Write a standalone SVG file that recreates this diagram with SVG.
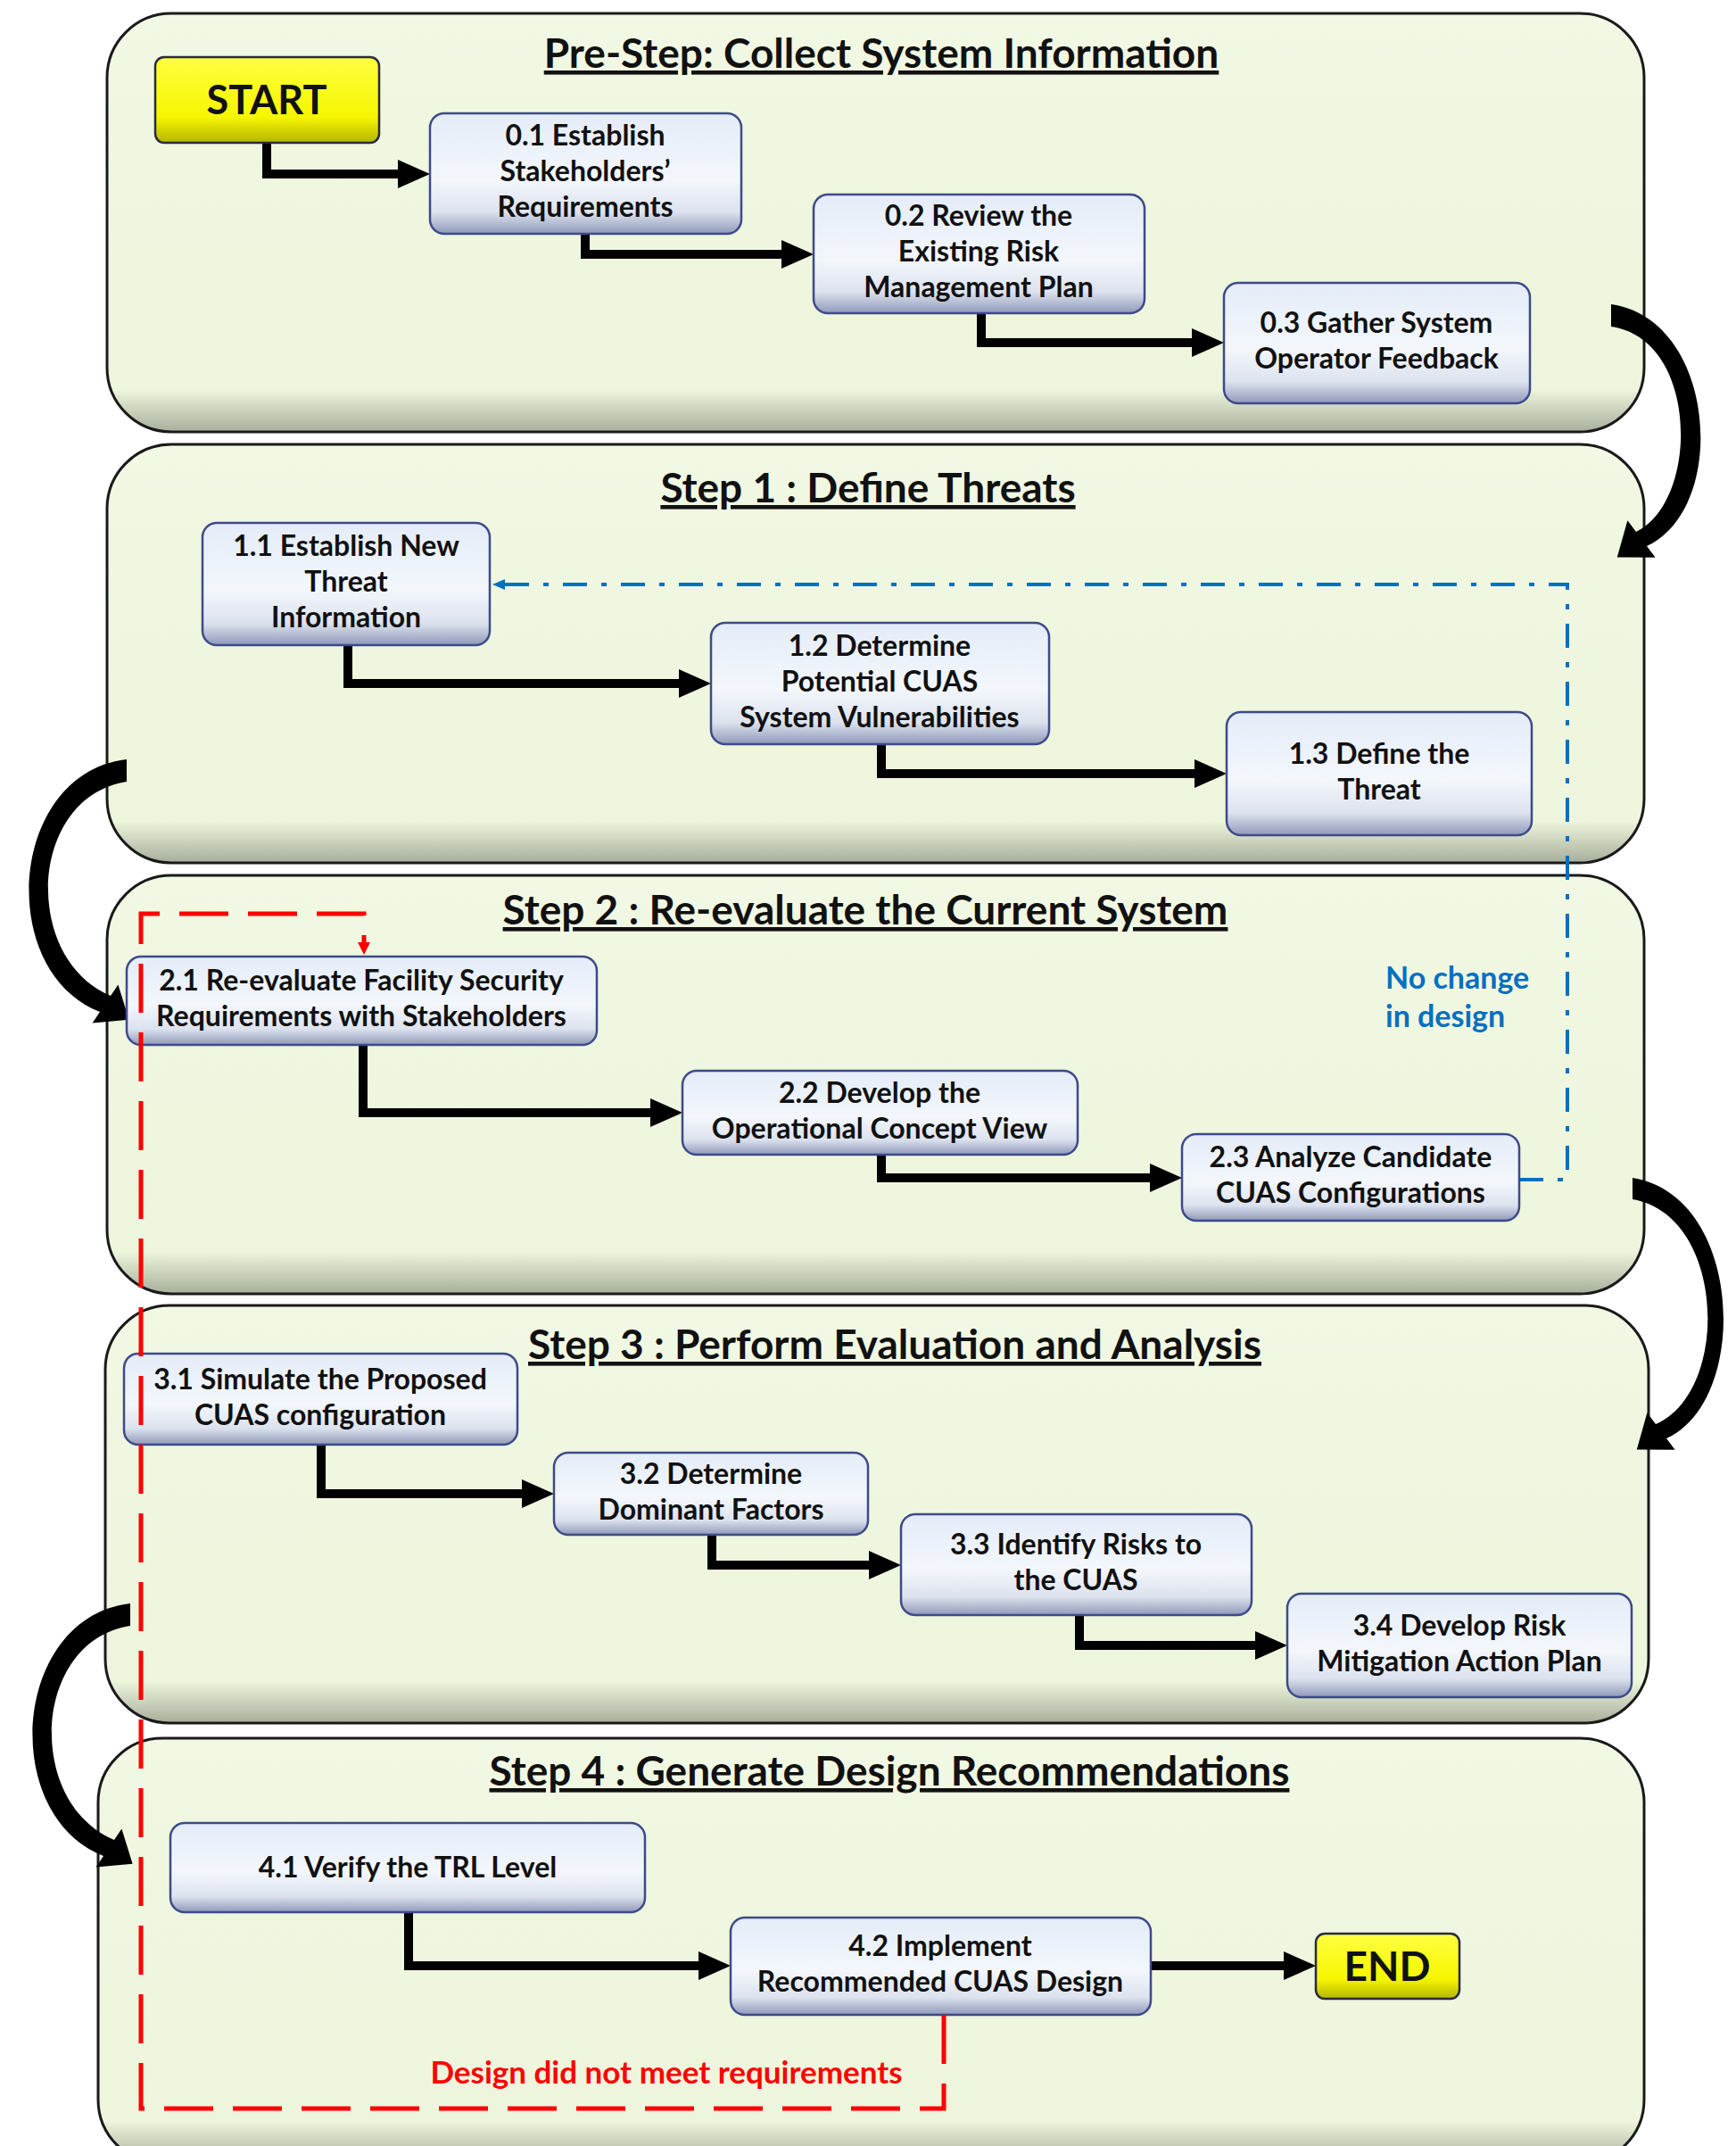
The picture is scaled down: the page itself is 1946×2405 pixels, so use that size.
<svg xmlns="http://www.w3.org/2000/svg" width="1946" height="2405" viewBox="0 0 1946 2405">
<defs>
<linearGradient id="gPanel" x1="0" y1="0" x2="0" y2="1">
<stop offset="0" stop-color="#F1F8E3"/>
<stop offset="0.9" stop-color="#EDF5DC"/>
<stop offset="1" stop-color="#A7AE9B"/>
</linearGradient>
<linearGradient id="gBox" x1="0" y1="0" x2="0" y2="1">
<stop offset="0" stop-color="#E4ECF8"/>
<stop offset="0.55" stop-color="#F3F7FC"/>
<stop offset="0.82" stop-color="#DCE2EE"/>
<stop offset="1" stop-color="#8F99B9"/>
</linearGradient>
<linearGradient id="gYel" x1="0" y1="0" x2="0" y2="1">
<stop offset="0" stop-color="#FFFF40"/>
<stop offset="0.7" stop-color="#F6F600"/>
<stop offset="1" stop-color="#B5B500"/>
</linearGradient>
<marker id="ah" markerUnits="userSpaceOnUse" markerWidth="40" markerHeight="34" viewBox="0 -17 40 34" refX="2" refY="0" orient="auto"><path d="M0,-16 L36,0 L0,16 z" fill="#000"/></marker>
<marker id="ahB" markerUnits="userSpaceOnUse" markerWidth="16" markerHeight="14" viewBox="0 -7 16 14" refX="0" refY="0" orient="auto"><path d="M0,-6 L14,0 L0,6 z" fill="#0070C0"/></marker>
<marker id="ahR" markerUnits="userSpaceOnUse" markerWidth="16" markerHeight="16" viewBox="0 -8 16 16" refX="0" refY="0" orient="auto"><path d="M0,-7 L14,0 L0,7 z" fill="#FF0000"/></marker>
</defs>
<style>
.panel{fill:url(#gPanel);stroke:#1A1A1A;stroke-width:3}
.box{fill:url(#gBox);stroke:#3E4A8A;stroke-width:2.5}
.yel{fill:url(#gYel);stroke:#2A2A40;stroke-width:2.5}
.t{font-family:Lato,'Open Sans','Liberation Sans',sans-serif;font-weight:bold;font-size:32px;fill:#111;text-anchor:middle}
.big{font-size:45px}
.title{font-family:Lato,'Open Sans','Liberation Sans',sans-serif;font-weight:bold;font-size:46px;fill:#111;text-anchor:middle;text-decoration:underline}
.conn{fill:none;stroke:#000;stroke-width:10;stroke-linejoin:miter}
.curve{fill:#000}
.blue{fill:none;stroke:#0070C0;stroke-width:4;stroke-dasharray:27 16 6 16}
.red{fill:none;stroke:#FF0000;stroke-width:5;stroke-dasharray:55 22}
.bt{font-family:Lato,'Open Sans','Liberation Sans',sans-serif;font-weight:bold;font-size:34px;fill:#0070C0}
.rt{font-family:Lato,'Open Sans','Liberation Sans',sans-serif;font-weight:bold;font-size:35px;fill:#FF0000;text-anchor:middle}
</style>
<rect width="1946" height="2405" fill="#FFFFFF"/>

<g id="panel0"><rect class="panel" x="120" y="15" width="1723" height="469" rx="72"/><text class="title" x="988" y="76">Pre-Step: Collect System Information</text></g>
<g id="panel1"><rect class="panel" x="120" y="498" width="1723" height="469" rx="72"/><text class="title" x="973" y="563">Step 1 : Define Threats</text></g>
<g id="panel2"><rect class="panel" x="120" y="981" width="1723" height="469" rx="72"/><text class="title" x="970" y="1036">Step 2 : Re-evaluate the Current System</text></g>
<g id="panel3"><rect class="panel" x="118" y="1463" width="1730" height="468" rx="72"/><text class="title" x="1003" y="1523">Step 3 : Perform Evaluation and Analysis</text></g>
<g id="panel4"><rect class="panel" x="110" y="1948" width="1733" height="477" rx="72"/><text class="title" x="997" y="2001">Step 4 : Generate Design Recommendations</text></g>

<g id="connectors">
<path class="conn" d="M299 160 V195 H448" marker-end="url(#ah)"/>
<path class="conn" d="M656 262 V285 H878" marker-end="url(#ah)"/>
<path class="conn" d="M1100 351 V384 H1338" marker-end="url(#ah)"/>
<path class="conn" d="M390 723 V766 H763" marker-end="url(#ah)"/>
<path class="conn" d="M988 834 V867 H1341" marker-end="url(#ah)"/>
<path class="conn" d="M407 1171 V1247 H731" marker-end="url(#ah)"/>
<path class="conn" d="M988 1294 V1320 H1291" marker-end="url(#ah)"/>
<path class="conn" d="M360 1619 V1674 H587" marker-end="url(#ah)"/>
<path class="conn" d="M798 1720 V1754 H976" marker-end="url(#ah)"/>
<path class="conn" d="M1210 1810 V1844 H1409" marker-end="url(#ah)"/>
<path class="conn" d="M458 2143 V2203 H785" marker-end="url(#ah)"/>
<path class="conn" d="M1290 2203 H1441" marker-end="url(#ah)"/>
<path class="curve" d="M1806 341 C1925 358 1938 570 1846 612 L1855.6 624.8 L1812.8 624.4 L1824.4 583.2 L1834 596 C1905 562 1905 380 1806 366 Z"/>
<path class="curve" d="M142 851 C10 866 -6 1088 112 1134 L103.6 1146.6 L144.6 1142.8 L132.4 1103.4 L124 1116 C24 1074 32 893 142 876 Z"/>
<path class="curve" d="M1830 1320 C1955 1340 1962 1570 1868 1612 L1877.6 1624.8 L1834.8 1624.4 L1846.4 1583.2 L1856 1596 C1940 1560 1935 1362 1830 1344 Z"/>
<path class="curve" d="M146 1797 C14 1812 -2 2034 116 2080 L107.6 2092.6 L148.6 2088.8 L136.4 2049.4 L128 2062 C28 2020 36 1839 146 1822 Z"/>
<path class="blue" d="M1703 1322 H1757 V655 H566" marker-end="url(#ahB)"/>
</g>

<g id="start"><rect class="yel" x="174" y="64" width="251" height="96" rx="10"/><text class="t big" x="299" y="128">START</text></g>
<g id="n01"><rect class="box" x="482" y="127" width="349" height="135" rx="16"/><text class="t" x="656" y="163">0.1 Establish</text><text class="t" x="656" y="203">Stakeholders’</text><text class="t" x="656" y="243">Requirements</text></g>
<g id="n02"><rect class="box" x="912" y="218" width="371" height="133" rx="16"/><text class="t" x="1097" y="253">0.2 Review the</text><text class="t" x="1097" y="293">Existing Risk</text><text class="t" x="1097" y="333">Management Plan</text></g>
<g id="n03"><rect class="box" x="1372" y="317" width="343" height="135" rx="16"/><text class="t" x="1543" y="373">0.3 Gather System</text><text class="t" x="1543" y="413">Operator Feedback</text></g>
<g id="n11"><rect class="box" x="227" y="586" width="322" height="137" rx="16"/><text class="t" x="388" y="623">1.1 Establish New</text><text class="t" x="388" y="663">Threat</text><text class="t" x="388" y="703">Information</text></g>
<g id="n12"><rect class="box" x="797" y="698" width="379" height="136" rx="16"/><text class="t" x="986" y="735">1.2 Determine</text><text class="t" x="986" y="775">Potential CUAS</text><text class="t" x="986" y="815">System Vulnerabilities</text></g>
<g id="n13"><rect class="box" x="1375" y="798" width="342" height="138" rx="16"/><text class="t" x="1546" y="856">1.3 Define the</text><text class="t" x="1546" y="896">Threat</text></g>
<g id="n21"><rect class="box" x="142" y="1072" width="527" height="99" rx="16"/><text class="t" x="405" y="1110">2.1 Re-evaluate Facility Security</text><text class="t" x="405" y="1150">Requirements with Stakeholders</text></g>
<g id="n22"><rect class="box" x="765" y="1200" width="443" height="94" rx="16"/><text class="t" x="986" y="1236">2.2 Develop the</text><text class="t" x="986" y="1276">Operational Concept View</text></g>
<g id="n23"><rect class="box" x="1325" y="1271" width="378" height="97" rx="16"/><text class="t" x="1514" y="1308">2.3 Analyze Candidate</text><text class="t" x="1514" y="1348">CUAS Configurations</text></g>
<g id="n31"><rect class="box" x="139" y="1517" width="441" height="102" rx="16"/><text class="t" x="359" y="1557">3.1 Simulate the Proposed</text><text class="t" x="359" y="1597">CUAS configuration</text></g>
<g id="n32"><rect class="box" x="621" y="1628" width="352" height="92" rx="16"/><text class="t" x="797" y="1663">3.2 Determine</text><text class="t" x="797" y="1703">Dominant Factors</text></g>
<g id="n33"><rect class="box" x="1010" y="1697" width="393" height="113" rx="16"/><text class="t" x="1206" y="1742">3.3 Identify Risks to</text><text class="t" x="1206" y="1782">the CUAS</text></g>
<g id="n34"><rect class="box" x="1443" y="1786" width="386" height="116" rx="16"/><text class="t" x="1636" y="1833">3.4 Develop Risk</text><text class="t" x="1636" y="1873">Mitigation Action Plan</text></g>
<g id="n41"><rect class="box" x="191" y="2043" width="532" height="100" rx="16"/><text class="t" x="457" y="2104">4.1 Verify the TRL Level</text></g>
<g id="n42"><rect class="box" x="819" y="2149" width="471" height="109" rx="16"/><text class="t" x="1054" y="2192">4.2 Implement</text><text class="t" x="1054" y="2232">Recommended CUAS Design</text></g>
<g id="end"><rect class="yel" x="1475" y="2167" width="161" height="73" rx="10"/><text class="t" x="1555" y="2220" style="font-size:46px">END</text></g>

<g id="feedback">
<path class="red" d="M1058 2258 V2363 H158 V1024 H408 V1056" marker-end="url(#ahR)"/>
<text class="rt" x="747" y="2335">Design did not meet requirements</text>
<text class="bt" x="1553" y="1108">No change</text>
<text class="bt" x="1553" y="1151">in design</text>
</g>
</svg>
